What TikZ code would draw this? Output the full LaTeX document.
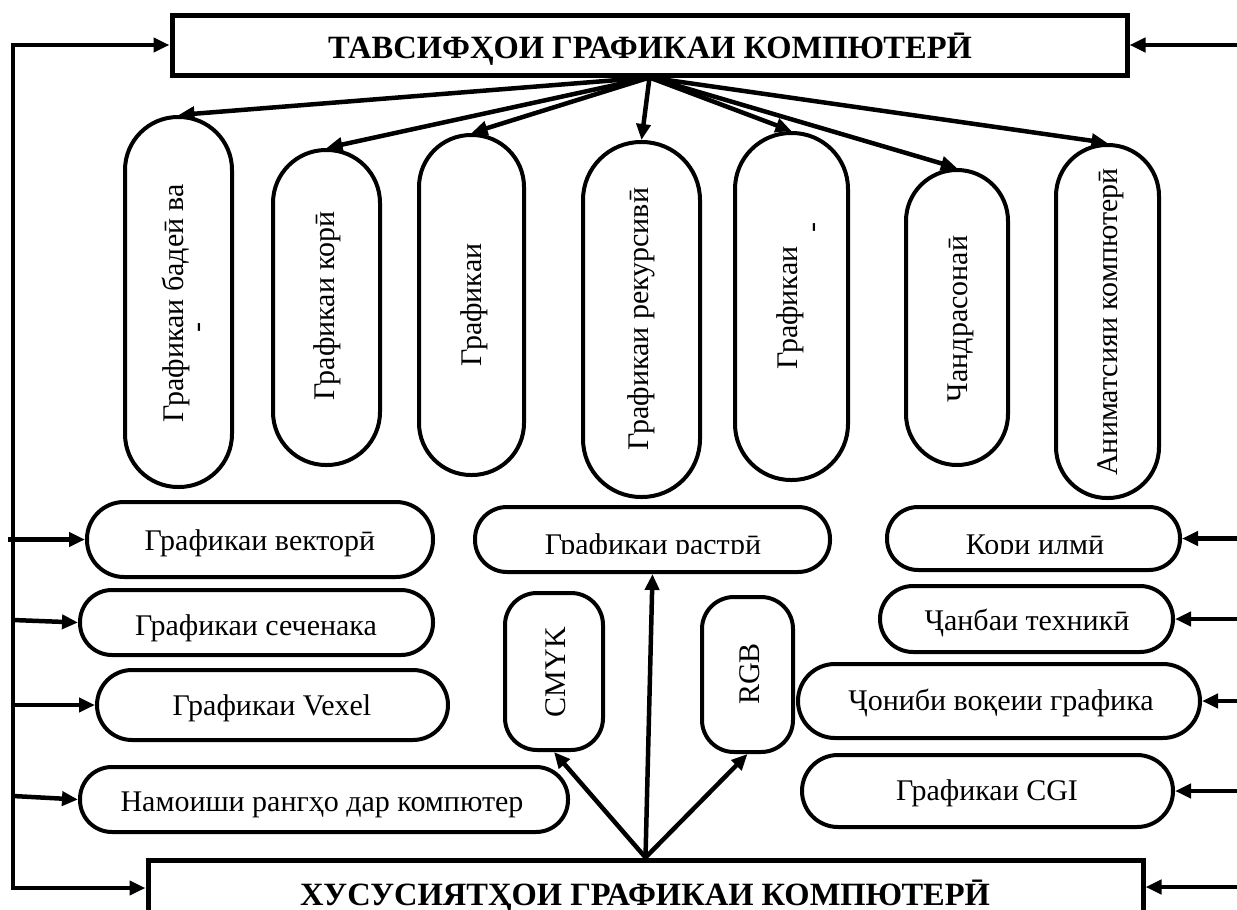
\documentclass[tikz,border=0pt]{standalone}
\usepackage{fontspec}
\setmainfont{Liberation Serif}
\usetikzlibrary{arrows.meta}
\begin{document}
\begin{tikzpicture}[x=1pt,y=-1pt,
  box/.style={draw, line width=5pt, inner sep=0pt},
  pill/.style={draw, line width=4pt, inner sep=0pt, rounded corners=#1},
  pill/.default=32pt,
  arr/.style={line width=4.5pt, -{Triangle[length=16pt,width=14pt]}, line join=miter},
  txt/.style={inner sep=0pt, font=\fontsize{30}{34}\selectfont, anchor=base},
  vtxt/.style={txt, rotate=90},
  ttl/.style={inner sep=0pt, font=\bfseries\fontsize{32.5}{38}\selectfont, anchor=base}]
\useasboundingbox (0,0) rectangle (1237,910);
\fill[white] (0,0) rectangle (1237,910);
\clip (0,0) rectangle (1237,910);

% title boxes
\node[box, minimum width=955pt, minimum height=60pt] (top) at (649.5,45) {};
\node[ttl] (ttop) at (650,58) {ТАВСИФҲОИ ГРАФИКАИ КОМПЮТЕРӢ};
\node[box, minimum width=995pt, minimum height=90pt] (bot) at (645.5,905) {};
\node[ttl] (tbot) at (645,905) {ХУСУСИЯТҲОИ ГРАФИКАИ КОМПЮТЕРӢ};

% vertical pills
\node[pill=53pt, minimum width=107pt, minimum height=370pt] (p1) at (178.5,302) {};
\node[pill=53pt, minimum width=107pt, minimum height=315pt] (p2) at (326.5,307.5) {};
\node[pill=52pt, minimum width=105pt, minimum height=340pt] (p3) at (471.5,305) {};
\node[pill=58pt, minimum width=117pt, minimum height=355pt] (p4) at (641.5,319.5) {};
\node[pill=56pt, minimum width=113pt, minimum height=347pt] (p5) at (791.5,306.5) {};
\node[pill=51pt, minimum width=102pt, minimum height=295pt] (p6) at (957,317.5) {};
\node[pill=51pt, minimum width=103pt, minimum height=353pt] (p7) at (1107.5,321.5) {};

\node[vtxt] (tp1) at (183,303) {Графикаи бадеӣ ва};
\node[vtxt, anchor=center] (dp1) at (202,328) {-};
\node[vtxt] (tp2) at (334,306) {Графикаи корӣ};
\node[vtxt] (tp3) at (481,305) {Графикаи};
\node[vtxt] (tp4) at (648,319) {Графикаи рекурсивӣ};
\node[vtxt] (tp5) at (797,308) {Графикаи};
\node[vtxt, anchor=center] (dp5) at (817,228) {-};
\node[vtxt] (tp6) at (967,319) {Чандрасонаӣ};
\node[vtxt] (tp7) at (1117,322) {Аниматсияи компютерӣ};

% left pills
\node[pill=37pt, minimum width=346pt, minimum height=75pt] (vec) at (260,539.5) {};
\node[pill=32pt, minimum width=353pt, minimum height=65pt] (sech) at (256.5,622.5) {};
\node[pill=35pt, minimum width=351pt, minimum height=70pt] (vexel) at (272.5,705) {};
\node[pill=32pt, minimum width=488pt, minimum height=65pt] (namo) at (324,799.5) {};
\node[txt] (tvec) at (260,550) {Графикаи векторӣ};
\node[txt] (tsech) at (256,635) {Графикаи сеченака};
\node[txt] (tvexel) at (272,715) {Графикаи Vexel};
\node[txt] (tnamo) at (322,811) {Намоиши рангҳо дар компютер};

% centre pills
\node[pill=32pt, minimum width=355pt, minimum height=65pt] (rast) at (652.5,539.5) {};
\node[pill=32pt, minimum width=98pt, minimum height=157pt] (cmyk) at (554,671.5) {};
\node[pill=32pt, minimum width=91pt, minimum height=155pt] (rgb) at (747.5,674.5) {};
\begin{scope}
\clip (470,500) rectangle (840,553);
\node[txt] (trast) at (653,554) {Графикаи растрӣ};
\end{scope}
\node[vtxt] (tcmyk) at (565,672) {CMYK};
\node[vtxt] (trgb) at (759,674) {RGB};

% right pills
\node[pill=31pt, minimum width=293pt, minimum height=63pt] (kori) at (1033.5,538.5) {};
\node[pill=33pt, minimum width=293pt, minimum height=66pt] (janba) at (1026.5,619) {};
\node[pill=37pt, minimum width=402pt, minimum height=74pt] (joni) at (999,701) {};
\node[pill=36pt, minimum width=371pt, minimum height=72pt] (cgi) at (987.5,791) {};
\begin{scope}
\clip (880,500) rectangle (1190,553);
\node[txt] (tkori) at (1035,554) {Кори илмӣ};
\end{scope}
\node[txt] (tjanba) at (1027,630) {Ҷанбаи техникӣ};
\node[txt] (tjoni) at (1001,710) {Ҷониби воқеии графика};
\node[txt] (tcgi) at (987,800) {Графикаи CGI};

% left bus
\coordinate (lt) at (13,45);
\coordinate (lb) at (13,888);
\draw[arr] (lb) -- (lt) -- (top.west);
\draw[arr] (lt) -- (lb) -- (bot.west |- lb);
\draw[arr] (8,539.5) -- (vec.west);
\draw[arr] (13,620) -- (sech.west);
\draw[arr] (13,705) -- (vexel.west);
\draw[arr] (13,796) -- (namo.west);

% right arrows
\coordinate (rt) at (1237,45);
\coordinate (rb) at (1237,887);
\draw[arr] (rt) -- (top.east);
\draw[arr] (rb) -- (bot.east |- rb);
\draw[arr] (1237,538.5) -- (kori.east);
\draw[arr] (1237,619) -- (janba.east);
\draw[arr] (1237,701) -- (joni.east);
\draw[arr] (1237,791) -- (cgi.east);

% top fan
\foreach \p in {p1,p2,p3,p4,p5,p6,p7}
  \draw[arr] (top.south) -- (\p.north);

% bottom fan
\draw[arr] (bot.north) -- (cmyk.south);
\draw[arr] (bot.north) -- (rast.south);
\draw[arr] (bot.north) -- (rgb.south);
\end{tikzpicture}
\end{document}
